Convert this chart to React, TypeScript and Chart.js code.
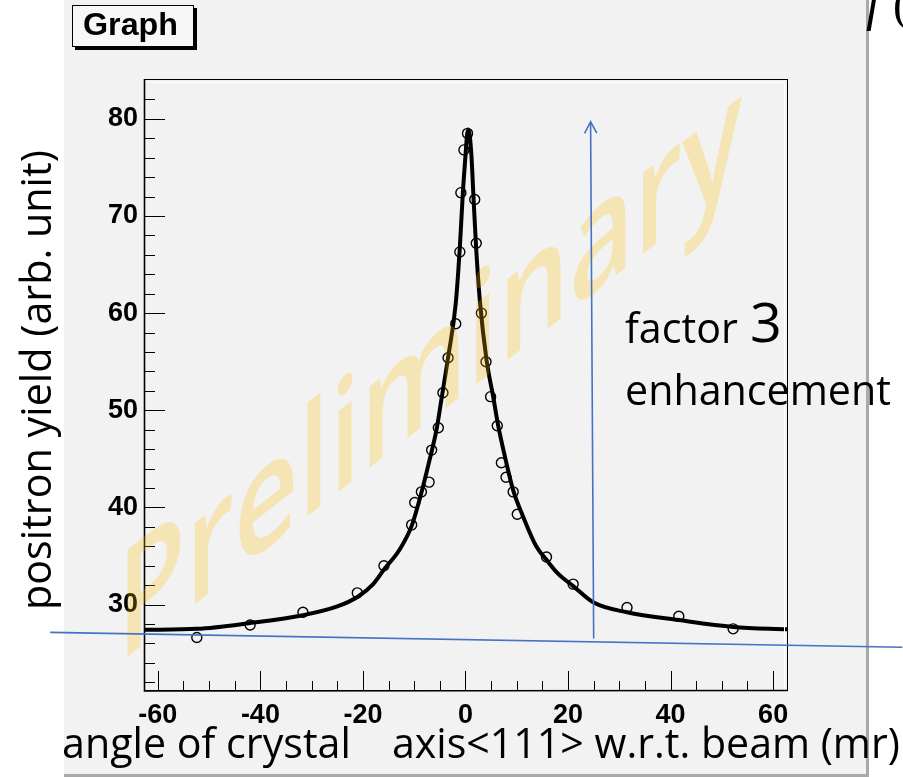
import React, { useEffect, useRef } from 'react';
import { Chart, registerables } from 'chart.js';

Chart.register(...registerables);

// ---- data ----
const pointX = [-52.4, -42.0, -31.7, -21.1, -15.9, -10.5, -9.9, -8.6, -7.1, -6.6, -5.3, -4.4, -3.4, -1.9, -1.1, -0.9, -0.3, 0.4, 1.8, 2.1, 3.1, 4.0, 4.9, 6.2, 7.0, 7.9, 9.3, 10.1, 15.8, 21.0, 31.5, 41.6, 52.2];
const pointY = [26.6, 27.9, 29.2, 31.2, 34.0, 38.2, 40.5, 41.6, 42.6, 45.9, 48.2, 51.8, 55.4, 58.9, 66.3, 72.4, 76.8, 78.5, 71.7, 67.2, 60.0, 55.0, 51.4, 48.4, 44.6, 43.1, 41.6, 39.3, 34.9, 32.1, 29.7, 28.8, 27.5];

const fitX = [-62.7, -52.4, -42, -31.7, -25, -21, -18, -15.9, -12.8, -10.5, -8.6, -7.0, -5.65, -4.7, -3.4, -1.9, -1.1, -0.5, 0, 0.3, 0.55, 0.8, 1.17, 1.6, 2.1, 2.8, 4.1, 5.4, 6.35, 7.66, 9.28, 11.2, 13.8, 15.8, 18, 21, 25, 31.5, 41.6, 52.2, 62.9];
const fitY = [27.4, 27.5, 28.1, 28.9, 29.8, 30.8, 32.1, 33.6, 35.7, 38.1, 41.5, 44.9, 48.0, 51.1, 55.4, 61.0, 66.8, 72.5, 76.2, 78.3, 78.9, 78.4, 76.1, 71.5, 66.5, 61.3, 55.2, 51.4, 48.5, 45.3, 41.8, 39.1, 36.0, 34.6, 33.2, 31.9, 30.2, 29.2, 28.4, 27.7, 27.45];

const xTickLabels = [-60, -40, -20, 0, 20, 40, 60];
const yTickLabels = [30, 40, 50, 60, 70, 80];
const xMinorTicks = [-60, -55, -50, -45, -40, -35, -30, -25, -20, -15, -10, -5, 0, 5, 10, 15, 20, 25, 30, 35, 40, 45, 50, 55, 60];
const yMinorTicks = [22, 24, 26, 28, 30, 32, 34, 36, 38, 40, 42, 44, 46, 48, 50, 52, 54, 56, 58, 60, 62, 64, 66, 68, 70, 72, 74, 76, 78, 80, 82];

// annotation lines, in data units
const arrowX = [25.0, 24.4];
const arrowY = [26.5, 79.7];
const baseLineX = [-81.0, 85.2];
const baseLineY = [27.14, 25.6];

const graphTitle = 'Graph';
const yTitle = 'positron yield (arb. unit)';
const xTitleA = 'angle of crystal';
const xTitleB = 'axis<111> w.r.t. beam (mr)';
const noteA = 'factor';
const noteBig = '3';
const noteB = 'enhancement';
const watermark = 'Preliminary';

const PANEL = '#f2f2f2';
const BLUE = '#4472c4';
const SANS = '"Open Sans", "Noto Sans", sans-serif';
const AXF = '"Liberation Sans", Arial, sans-serif';

function fitSize(ctx: CanvasRenderingContext2D, text: string, width: number, family: string, weight = 'normal') {
  ctx.font = `${weight} 100px ${family}`;
  const w = ctx.measureText(text).width;
  return (100 * width) / w;
}

const decor = {
  id: 'decor',
  beforeDraw(chart: any) {
    const { ctx, width, height } = chart;
    ctx.save();
    ctx.fillStyle = '#ffffff';
    ctx.fillRect(0, 0, width, height);
    ctx.fillStyle = PANEL;
    ctx.fillRect(64, 0, 802, 774);
    ctx.fillStyle = '#a9a9a9';
    ctx.fillRect(866, 0, 3, 777);
    ctx.fillRect(64, 774, 805, 3);
    // title box
    ctx.fillStyle = '#000';
    ctx.fillRect(75, 8, 122, 42);
    ctx.fillStyle = '#f7f7f7';
    ctx.fillRect(72, 5, 122, 42);
    ctx.strokeStyle = '#000';
    ctx.lineWidth = 1;
    ctx.strokeRect(72.5, 5.5, 121, 41);
    const gs = fitSize(ctx, graphTitle, 95, AXF, 'bold');
    ctx.font = `bold ${gs}px ${AXF}`;
    ctx.fillStyle = '#000';
    ctx.textBaseline = 'alphabetic';
    ctx.textAlign = 'left';
    ctx.fillText(graphTitle, 83, 35);
    ctx.restore();
  },
  afterDraw(chart: any) {
    const { ctx, chartArea } = chart;
    const xs = chart.scales.x;
    const ys = chart.scales.y;
    const { left, right, top, bottom } = chartArea;
    ctx.save();
    // frame
    ctx.strokeStyle = '#000';
    ctx.lineWidth = 1;
    ctx.strokeRect(left + 0.5, top + 0.5, right - left - 1, bottom - top - 1);
    ctx.beginPath();
    ctx.strokeStyle = '#ffffff';
    ctx.moveTo(left + 2, top + 3.5);
    ctx.lineTo(right - 3.5, top + 3.5);
    ctx.lineTo(right - 3.5, bottom - 2);
    ctx.stroke();
    // ticks
    ctx.strokeStyle = '#000';
    ctx.lineWidth = 1;
    ctx.beginPath();
    yMinorTicks.forEach((v) => {
      const p = Math.round(ys.getPixelForValue(v)) + 0.5;
      const len = v % 10 === 0 ? 21 : 11;
      ctx.moveTo(left, p);
      ctx.lineTo(left + len, p);
    });
    xMinorTicks.forEach((v) => {
      const p = Math.round(xs.getPixelForValue(v)) + 0.5;
      const len = v % 20 === 0 ? 20 : 10;
      ctx.moveTo(p, bottom);
      ctx.lineTo(p, bottom - len);
    });
    ctx.stroke();
    ctx.lineWidth = 1.6;
    ctx.beginPath();
    ctx.moveTo(left + 0.5, top);
    ctx.lineTo(left + 0.5, bottom);
    ctx.lineTo(right, bottom - 0.5);
    ctx.stroke();

    // watermark: upright glyphs on a rising baseline (vertical skew)
    ctx.save();
    ctx.font = `600 100px ${SANS}`;
    const natural = ctx.measureText(watermark).width;
    const sx = 625 / natural;
    const sy = 1.5;
    const rise = Math.tan((38 * Math.PI) / 180);
    ctx.setTransform(sx, -sx * rise, 0, sy, 117, 665);
    ctx.fillStyle = 'rgba(255, 190, 0, 0.25)';
    ctx.textAlign = 'left';
    ctx.textBaseline = 'alphabetic';
    ctx.fillText(watermark, 0, 0);
    ctx.restore();

    // blue lines
    ctx.strokeStyle = BLUE;
    ctx.lineWidth = 1.6;
    ctx.beginPath();
    ctx.moveTo(xs.getPixelForValue(baseLineX[0]), ys.getPixelForValue(baseLineY[0]));
    ctx.lineTo(xs.getPixelForValue(baseLineX[1]), ys.getPixelForValue(baseLineY[1]));
    ctx.stroke();
    const ax0 = xs.getPixelForValue(arrowX[0]);
    const ay0 = ys.getPixelForValue(arrowY[0]);
    const ax1 = xs.getPixelForValue(arrowX[1]);
    const ay1 = ys.getPixelForValue(arrowY[1]);
    ctx.beginPath();
    ctx.moveTo(ax0, ay0);
    ctx.lineTo(ax1, ay1);
    const ang = Math.atan2(ay1 - ay0, ax1 - ax0);
    const hl = 13;
    const spread = (28 * Math.PI) / 180;
    ctx.moveTo(ax1 - hl * Math.cos(ang - spread), ay1 - hl * Math.sin(ang - spread));
    ctx.lineTo(ax1, ay1);
    ctx.lineTo(ax1 - hl * Math.cos(ang + spread), ay1 - hl * Math.sin(ang + spread));
    ctx.stroke();

    // texts
    ctx.fillStyle = '#000';
    ctx.textAlign = 'left';
    ctx.textBaseline = 'alphabetic';
    let s = fitSize(ctx, noteB, 266, SANS);
    ctx.font = `${s}px ${SANS}`;
    ctx.fillText(noteA, 625, 343);
    ctx.fillText(noteB, 625, 405);
    ctx.font = `${s * 1.35}px ${SANS}`;
    ctx.fillText(noteBig, 750, 342);

    s = fitSize(ctx, xTitleA, 289, SANS);
    ctx.font = `${s}px ${SANS}`;
    ctx.fillText(xTitleA, 62, 758);
    const s2 = fitSize(ctx, xTitleB, 508, SANS);
    ctx.font = `${s2}px ${SANS}`;
    ctx.fillText(xTitleB, 392, 758);

    const s3 = fitSize(ctx, yTitle, 460, SANS);
    ctx.save();
    ctx.translate(51, 610);
    ctx.rotate(-Math.PI / 2);
    ctx.font = `${s3}px ${SANS}`;
    ctx.fillText(yTitle, 0, 0);
    ctx.restore();

    // cut-off formula fragment at top right
    ctx.font = `italic 50px "Liberation Serif", "DejaVu Serif", serif`;
    ctx.fillText('f', 866, 20);
    ctx.font = `46px "Liberation Serif", "DejaVu Serif", serif`;
    ctx.fillText('(', 893, 20);
    ctx.restore();
  },
};

export default function App() {
  const ref = useRef<HTMLCanvasElement | null>(null);
  useEffect(() => {
    if (!ref.current) return;
    const chart = new Chart(ref.current, {
      type: 'line',
      data: {
        datasets: [
          {
            type: 'scatter',
            data: pointX.map((x, i) => ({ x, y: pointY[i] })),
            showLine: false,
            pointRadius: 5,
            pointBorderWidth: 1.4,
            pointBorderColor: '#000',
            pointBackgroundColor: 'rgba(0,0,0,0)',
            order: 0,
          } as any,
          {
            type: 'line',
            data: fitX.map((x, i) => ({ x, y: fitY[i] })),
            borderColor: '#000',
            borderWidth: 4,
            pointRadius: 0,
            cubicInterpolationMode: 'monotone',
            fill: false,
            order: 1,
          } as any,
        ],
      },
      options: {
        responsive: false,
        maintainAspectRatio: false,
        animation: false,
        layout: { padding: { left: 0, top: 79, right: 115, bottom: 0 } },
        plugins: {
          legend: { display: false },
          tooltip: { enabled: false },
          title: { display: false },
        },
        scales: {
          x: {
            type: 'linear',
            position: 'bottom',
            min: -62.7,
            max: 62.9,
            grid: { display: false, drawTicks: false },
            border: { display: false },
            afterBuildTicks: (s: any) => {
              s.ticks = xTickLabels.map((v) => ({ value: v }));
            },
            afterFit: (s: any) => {
              s.height = 86;
            },
            ticks: {
              autoSkip: false,
              maxRotation: 0,
              padding: 8,
              color: '#000',
              font: { family: AXF, weight: 'bold', size: 27 },
              callback: (v: any) => String(v),
            },
          },
          y: {
            type: 'linear',
            min: 21.1,
            max: 84.1,
            grid: { display: false, drawTicks: false },
            border: { display: false },
            afterBuildTicks: (s: any) => {
              s.ticks = yTickLabels.map((v) => ({ value: v }));
            },
            afterFit: (s: any) => {
              s.width = 144;
            },
            ticks: {
              autoSkip: false,
              padding: 6,
              color: '#000',
              font: { family: AXF, weight: 'bold', size: 27 },
              callback: (v: any) => String(v),
            },
          },
        },
      } as any,
      plugins: [decor],
    });
    return () => chart.destroy();
  }, []);
  return (
    <div style={{ position: 'absolute', left: 0, top: 0, width: 903, height: 777 }}>
      <canvas ref={ref} width={903} height={777} style={{ width: 903, height: 777, display: 'block' }} />
    </div>
  );
}
